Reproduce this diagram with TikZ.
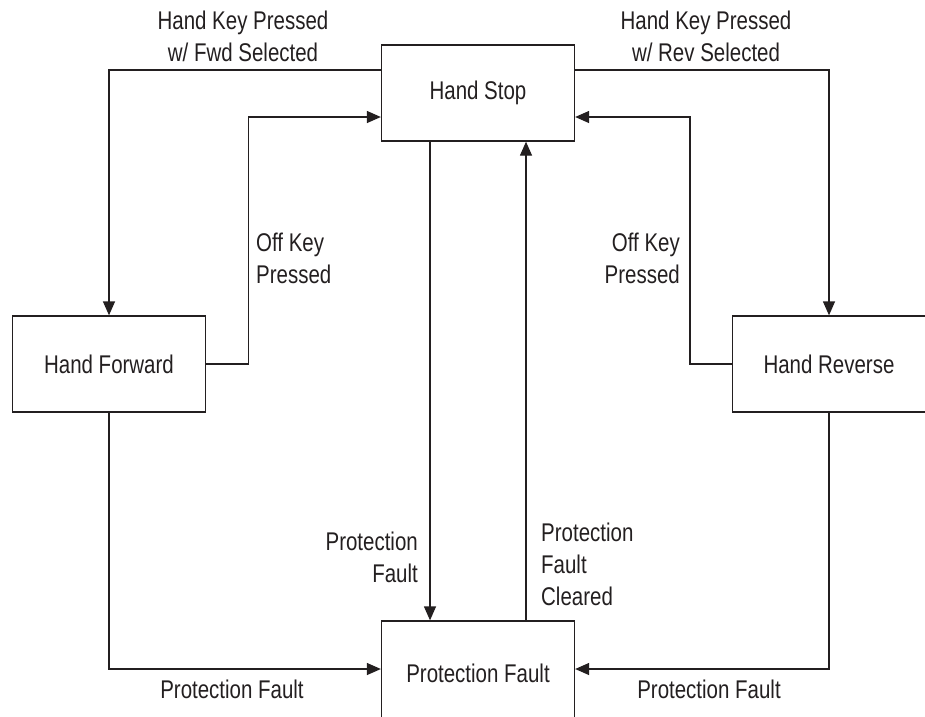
\documentclass[tikz,border=0pt]{standalone}
\usepackage{fontspec}
\setmainfont{Liberation Sans}[FakeStretch=0.8]
\usepackage{tikz}
\usetikzlibrary{arrows.meta}
\definecolor{ink}{HTML}{231F20}
\tikzset{
  state/.style={draw=ink,line width=1.3pt,minimum width=193pt,minimum height=96pt,inner sep=0pt,text=ink},
  trans/.style={draw=ink,line width=1.3pt,-{Triangle[length=14pt,width=12pt]}},
  lbl/.style={inner sep=0pt,text=ink}
}

\begin{document}
\begin{tikzpicture}[x=1pt,y=-1pt,font=\fontsize{25.6}{32}\selectfont]
  \useasboundingbox (0,0) rectangle (925,716);
  % states
  \node[state] (stop) at (478,93) {Hand Stop};
  \node[state] (fwd) at (109,364) {Hand Forward};
  \node[state] (rev) at (829,364) {Hand Reverse};
  \node[state,minimum height=104pt] (fault) at (478,673) {Protection Fault};
  % transitions
  \draw[trans] ([yshift=23pt]stop.west) -| (fwd.north);
  \draw[trans] ([yshift=23pt]stop.east) -| (rev.north);
  \draw[trans] (fwd.east) -- ++(42,0) |- ([yshift=-24pt]stop.west);
  \draw[trans] (rev.west) -- ++(-42,0) |- ([yshift=-24pt]stop.east);
  \draw[trans] ([xshift=-48pt]stop.south) -- ([xshift=-48pt]fault.north);
  \draw[trans] ([xshift=48pt]fault.north) -- ([xshift=48pt]stop.south);
  \draw[trans] (fwd.south) |- ([yshift=4pt]fault.west);
  \draw[trans] (rev.south) |- ([yshift=4pt]fault.east);
  % labels
  \node[lbl,anchor=north,align=center] (kfwd) at (243,11) {Hand Key Pressed\\w/ Fwd Selected};
  \node[lbl,anchor=north,align=center] (krev) at (706,11) {Hand Key Pressed\\w/ Rev Selected};
  \node[lbl,anchor=north west,align=left] (offl) at (256,233) {Off Key\\Pressed};
  \node[lbl,anchor=north east,align=right] (offr) at (680,233) {Off Key\\Pressed};
  \node[lbl,anchor=north east,align=right] (pfdown) at (418,532) {Protection\\Fault};
  \node[lbl,anchor=north west,align=left] (pfup) at (541,523) {Protection\\Fault\\Cleared};
  \node[lbl,anchor=north] (pfl) at (232,680) {Protection Fault};
  \node[lbl,anchor=north] (pfr) at (709,680) {Protection Fault};
\end{tikzpicture}
\end{document}
